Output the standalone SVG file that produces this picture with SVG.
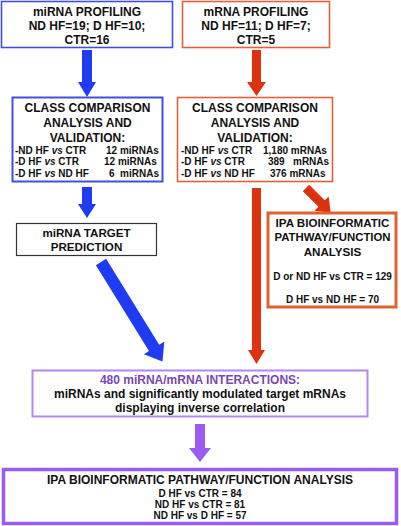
<svg xmlns="http://www.w3.org/2000/svg" width="401" height="526" viewBox="0 0 401 526">
<style>
text{font-family:"Liberation Sans",Arial,sans-serif;font-weight:bold;fill:#111}
.h{font-size:12px;text-anchor:middle}
.r{font-size:10px}
.c{font-size:10px;text-anchor:middle}
.i{font-style:italic}
.blue{fill:#fff;stroke:#4050dd;stroke-width:1.6}
.red{fill:#fff;stroke:#e0603c;stroke-width:1.6}
.ab{fill:#1f3cf2}
.ar{fill:#dd3210}
.ap{fill:#9a5cf0}
</style>
<rect width="401" height="526" fill="#fff"/>
<g id="connectors">
<polygon class="ab" points="82,50 92,50 92,82 96,82 87,97 78,82 82,82"/>
<polygon class="ar" points="252,50 261,50 261,82 266,82 256.5,96 247,82 252,82"/>
<polygon class="ab" points="82,187 92,187 92,204 96,204 87,218 78,204 82,204"/>
<polygon class="ar" points="252,188 261,188 261,350 265,350 256.5,364 248,350 252,350"/>
<polygon class="ar" transform="translate(306,188) rotate(-45)" points="-4.5,0 4.5,0 4.5,22 10,22 0,35 -10,22 -4.5,22"/>
<polygon class="ab" transform="translate(101,262) rotate(-31.7)" points="-6,0 6,0 6,101 12,101 0,117 -12,101 -6,101"/>
<polygon class="ap" points="195,424 205,424 205,448 211,448 200,462 189,448 195,448"/>
</g>
<g id="mirna-profiling">
<rect class="blue" x="1.5" y="1.5" width="171" height="46"/>
<text class="h" x="87" y="15.5">miRNA PROFILING</text>
<text class="h" x="87" y="29.5">ND HF=19; D HF=10;</text>
<text class="h" x="87" y="44">CTR=16</text>
</g>
<g id="mrna-profiling">
<rect class="red" x="182.5" y="1.5" width="147" height="46"/>
<text class="h" x="256" y="15.5">mRNA PROFILING</text>
<text class="h" x="256" y="29.5">ND HF=11; D HF=7;</text>
<text class="h" x="256" y="44">CTR=5</text>
</g>
<g id="mirna-class">
<rect class="blue" x="12.5" y="97.5" width="150" height="84" style="stroke-width:2"/>
<text class="h" x="87.5" y="111.5">CLASS COMPARISON</text>
<text class="h" x="87.5" y="126.5">ANALYSIS AND</text>
<text class="h" x="87.5" y="141.5">VALIDATION:</text>
<text class="r" x="15" y="154">-ND HF <tspan class="i">vs</tspan> CTR</text>
<text class="r" x="106" y="154">12 miRNAs</text>
<text class="r" x="15" y="165">-D HF <tspan class="i">vs</tspan> CTR</text>
<text class="r" x="104" y="165">12 miRNAs</text>
<text class="r" x="15" y="177">-D HF <tspan class="i">vs</tspan> ND HF</text>
<text class="r" x="109" y="177" xml:space="preserve">6  miRNAs</text>
</g>
<g id="mrna-class">
<rect class="red" x="177.5" y="97.5" width="155" height="84"/>
<text class="h" x="255" y="111.5">CLASS COMPARISON</text>
<text class="h" x="255" y="126.5">ANALYSIS AND</text>
<text class="h" x="255" y="141.5">VALIDATION:</text>
<text class="r" x="181" y="154">-ND HF <tspan class="i">vs</tspan> CTR</text>
<text class="r" x="263" y="154">1,180 mRNAs</text>
<text class="r" x="181" y="165">-D HF <tspan class="i">vs</tspan> CTR</text>
<text class="r" x="268" y="165">389</text>
<text class="r" x="293" y="165">mRNAs</text>
<text class="r" x="181" y="177">-D HF <tspan class="i">vs</tspan> ND HF</text>
<text class="r" x="270" y="177">376 mRNAs</text>
</g>
<g id="target-prediction">
<rect x="16.5" y="223.5" width="140" height="32" fill="#fff" stroke="#333" stroke-width="1.2"/>
<text class="h" x="86.5" y="237" style="font-size:11.6px">miRNA TARGET</text>
<text class="h" x="86.5" y="251" style="font-size:11.6px">PREDICTION</text>
</g>
<g id="ipa-mrna">
<rect x="268" y="213" width="128" height="94" fill="#fff" stroke="#e0602e" stroke-width="3"/>
<text class="h" x="332.5" y="227" style="font-size:11.6px">IPA BIOINFORMATIC</text>
<text class="h" x="332.5" y="241" style="font-size:11.4px">PATHWAY/FUNCTION</text>
<text class="h" x="332.5" y="256" style="font-size:11.6px">ANALYSIS</text>
<text class="c" x="332.5" y="280">D or ND HF vs CTR = 129</text>
<text class="c" x="332.5" y="303">D HF vs ND HF = 70</text>
</g>
<g id="interactions">
<rect x="32.5" y="370.5" width="335" height="46" fill="#fff" stroke="#b088ee" stroke-width="2"/>
<text class="h" x="200" y="384" style="fill:#7a46b8">480 miRNA/mRNA INTERACTIONS:</text>
<text class="h" x="200" y="398">miRNAs and significantly modulated target mRNAs</text>
<text class="h" x="200" y="412">displaying inverse correlation</text>
</g>
<g id="ipa-final">
<rect x="3.5" y="469.5" width="393" height="54" fill="#fff" stroke="#9a5cf0" stroke-width="3.5"/>
<text class="h" x="200" y="483.5">IPA BIOINFORMATIC PATHWAY/FUNCTION ANALYSIS</text>
<text class="c" x="200" y="497">D HF vs CTR = 84</text>
<text class="c" x="200" y="508">ND HF vs CTR = 81</text>
<text class="c" x="200" y="519">ND HF vs D HF = 57</text>
</g>
</svg>
